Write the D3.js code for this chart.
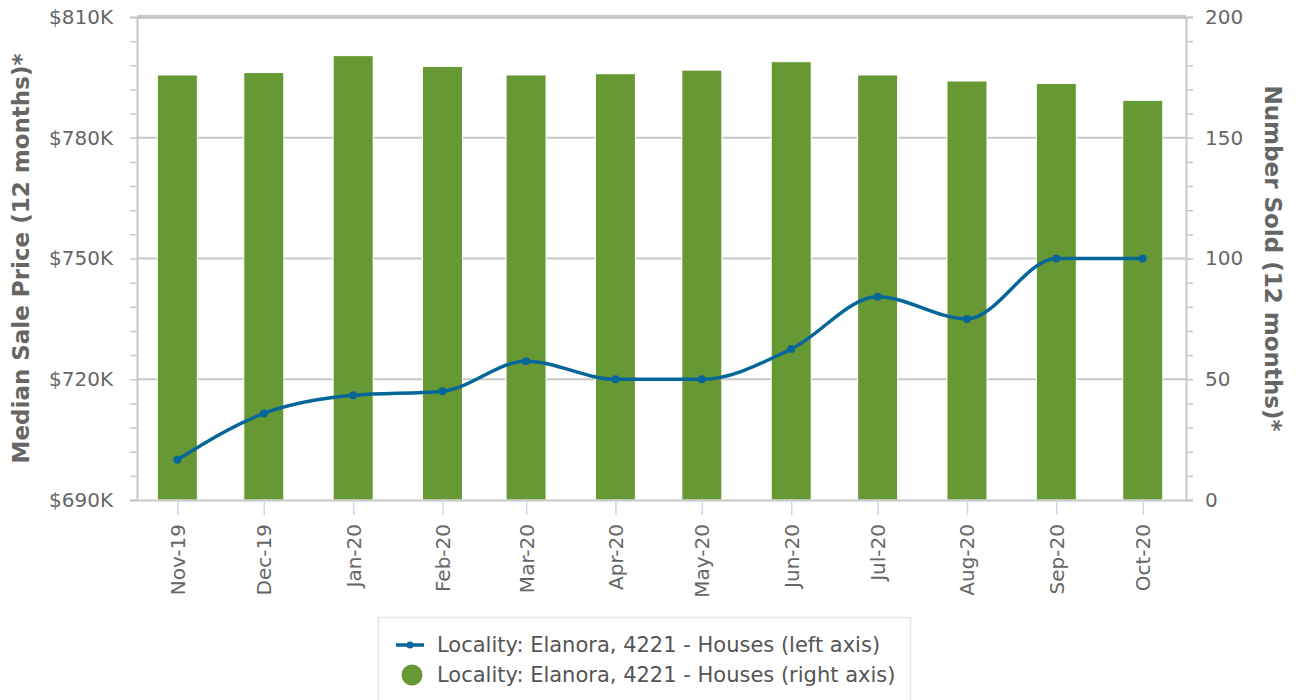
<!DOCTYPE html>
<html>
<head>
<meta charset="utf-8">
<script src="https://cdn.jsdelivr.net/npm/d3@7"></script>
<style>
  body { margin: 0; background: #fff; }
  svg { font-family: "DejaVu Sans", sans-serif; }
</style>
</head>
<body>
<svg id="chart" width="1298" height="700"></svg>
<script>
// data
const months = ['2019-11-01', '2019-12-01', '2020-01-01', '2020-02-01', '2020-03-01', '2020-04-01',
                '2020-05-01', '2020-06-01', '2020-07-01', '2020-08-01', '2020-09-01', '2020-10-01'];
const medianPrice = [700, 711.5, 716, 717, 724.5, 720, 720, 727.5, 740.5, 735, 750, 750]; // $K
const numberSold = [176, 177, 184, 179.5, 176, 176.5, 178, 181.5, 176, 173.5, 172.5, 165.5];
const leftTicks = [690, 720, 750, 780, 810];
const rightTicks = [0, 50, 100, 150, 200];
const legendLabels = ['Locality: Elanora, 4221 - Houses (left axis)', 'Locality: Elanora, 4221 - Houses (right axis)'];

const parse = d3.timeParse('%Y-%m-%d');
const fmt = d3.timeFormat('%b-%y');
const data = months.map((m, i) => ({ date: parse(m), price: medianPrice[i], sold: numberSold[i] }));

const width = 1298, height = 700;
const margin = { top: 17, right: 112, bottom: 200, left: 137 };
const plotW = width - margin.left - margin.right;
const plotH = height - margin.top - margin.bottom;
const plotL = margin.left, plotR = margin.left + plotW, plotT = margin.top, plotB = margin.top + plotH;

const font = '"DejaVu Sans", sans-serif';
const barColor = '#669933';
const lineColor = '#066699';
const gridColor = '#c8c8c8';
const textColor = '#666666';

const svg = d3.select('#chart');

// time scale: months get spaced by their actual length
const x = d3.scaleTime()
  .domain([d3.timeDay.offset(data[0].date, -14), d3.timeDay.offset(data[data.length - 1].date, 15)])
  .range([plotL, plotR]);

const yL = d3.scaleLinear().domain([690, 810]).range([plotB, plotT]);
const yR = d3.scaleLinear().domain([0, 200]).range([plotB, plotT]);

// grid lines
svg.append('g')
  .selectAll('line')
  .data(leftTicks.slice(1))
  .enter()
  .append('line')
  .attr('x1', plotL)
  .attr('x2', plotR)
  .attr('y1', d => yL(d))
  .attr('y2', d => yL(d))
  .attr('stroke', gridColor)
  .attr('stroke-width', d => d === 810 ? 4 : 2);

// bars (right axis)
const barW = 40;
svg.append('g')
  .selectAll('rect')
  .data(data)
  .enter()
  .append('rect')
  .attr('x', d => x(d.date) - barW / 2)
  .attr('y', d => yR(d.sold))
  .attr('width', barW)
  .attr('height', d => yR(0) - yR(d.sold))
  .attr('fill', barColor)
  .attr('stroke', '#ffffff')
  .attr('stroke-width', 1);

// left axis
const leftAxis = svg.append('g')
  .attr('transform', `translate(${plotL},0)`)
  .call(d3.axisLeft(yL).tickValues(d3.range(690, 811, 6)).tickSize(7).tickFormat(d => leftTicks.includes(d) ? `$${d}K` : '').tickPadding(17))
  .attr('font-family', font);
leftAxis.select('.domain').attr('stroke', gridColor).attr('stroke-width', 2);
leftAxis.selectAll('.tick line').attr('stroke', gridColor).attr('stroke-width', 1.5);
leftAxis.selectAll('text').attr('fill', textColor).style('font-size', '20px');

// right axis
const rightAxis = svg.append('g')
  .attr('transform', `translate(${plotR},0)`)
  .call(d3.axisRight(yR).tickValues(d3.range(0, 201, 10)).tickSize(7).tickFormat(d => rightTicks.includes(d) ? d : '').tickPadding(12))
  .attr('font-family', font);
rightAxis.select('.domain').attr('stroke', gridColor).attr('stroke-width', 2);
rightAxis.selectAll('.tick line').attr('stroke', gridColor).attr('stroke-width', 1.5);
rightAxis.selectAll('text').attr('fill', textColor).style('font-size', '20px');

// bottom axis
const xAxis = svg.append('g')
  .attr('transform', `translate(0,${plotB})`)
  .call(d3.axisBottom(x).tickValues(data.map(d => d.date)).tickFormat(fmt).tickSize(15).tickSizeOuter(0))
  .attr('font-family', font);
xAxis.select('.domain').attr('stroke', gridColor).attr('stroke-width', 2);
xAxis.selectAll('.tick line').attr('stroke', '#ccd6eb').attr('stroke-width', 1.5);
xAxis.selectAll('text')
  .attr('fill', textColor)
  .style('font-size', '20px')
  .attr('text-anchor', 'end')
  .attr('transform', 'rotate(-90)')
  .attr('x', -24)
  .attr('y', 0)
  .attr('dy', '0.35em');

// price line
const line = d3.line()
  .x(d => x(d.date))
  .y(d => yL(d.price))
  .curve(d3.curveMonotoneX);

svg.append('path')
  .datum(data)
  .attr('d', line)
  .attr('fill', 'none')
  .attr('stroke', lineColor)
  .attr('stroke-width', 3.5);

svg.append('g')
  .selectAll('circle')
  .data(data)
  .enter()
  .append('circle')
  .attr('cx', d => x(d.date))
  .attr('cy', d => yL(d.price))
  .attr('r', 4)
  .attr('fill', lineColor);

// axis titles
svg.append('text')
  .attr('transform', `translate(29,${(plotT + plotB) / 2}) rotate(-90)`)
  .attr('text-anchor', 'middle')
  .attr('fill', textColor)
  .style('font-size', '23px')
  .style('font-weight', 'bold')
  .text('Median Sale Price (12 months)*');

svg.append('text')
  .attr('transform', `translate(1265,${(plotT + plotB) / 2}) rotate(90)`)
  .attr('text-anchor', 'middle')
  .attr('fill', textColor)
  .style('font-size', '23px')
  .style('font-weight', 'bold')
  .text('Number Sold (12 months)*');

// legend
const legend = svg.append('g').attr('transform', 'translate(378,617)');
legend.append('rect')
  .attr('x', 0.5)
  .attr('y', 0.5)
  .attr('width', 532)
  .attr('height', 100)
  .attr('fill', '#ffffff')
  .attr('stroke', '#e8e8e8')
  .attr('stroke-width', 1.5);

legend.append('line')
  .attr('x1', 18).attr('x2', 46)
  .attr('y1', 28).attr('y2', 28)
  .attr('stroke', lineColor)
  .attr('stroke-width', 3.5);
legend.append('circle')
  .attr('cx', 32).attr('cy', 28).attr('r', 3.5)
  .attr('fill', lineColor);
legend.append('circle')
  .attr('cx', 34).attr('cy', 58).attr('r', 10.5)
  .attr('fill', barColor);

legend.selectAll('.legend-text')
  .data(legendLabels)
  .enter()
  .append('text')
  .attr('x', 59)
  .attr('y', (d, i) => 28 + i * 30)
  .attr('dy', '0.35em')
  .attr('fill', '#555555')
  .style('font-size', '21px')
  .text(d => d);
</script>
</body>
</html>
